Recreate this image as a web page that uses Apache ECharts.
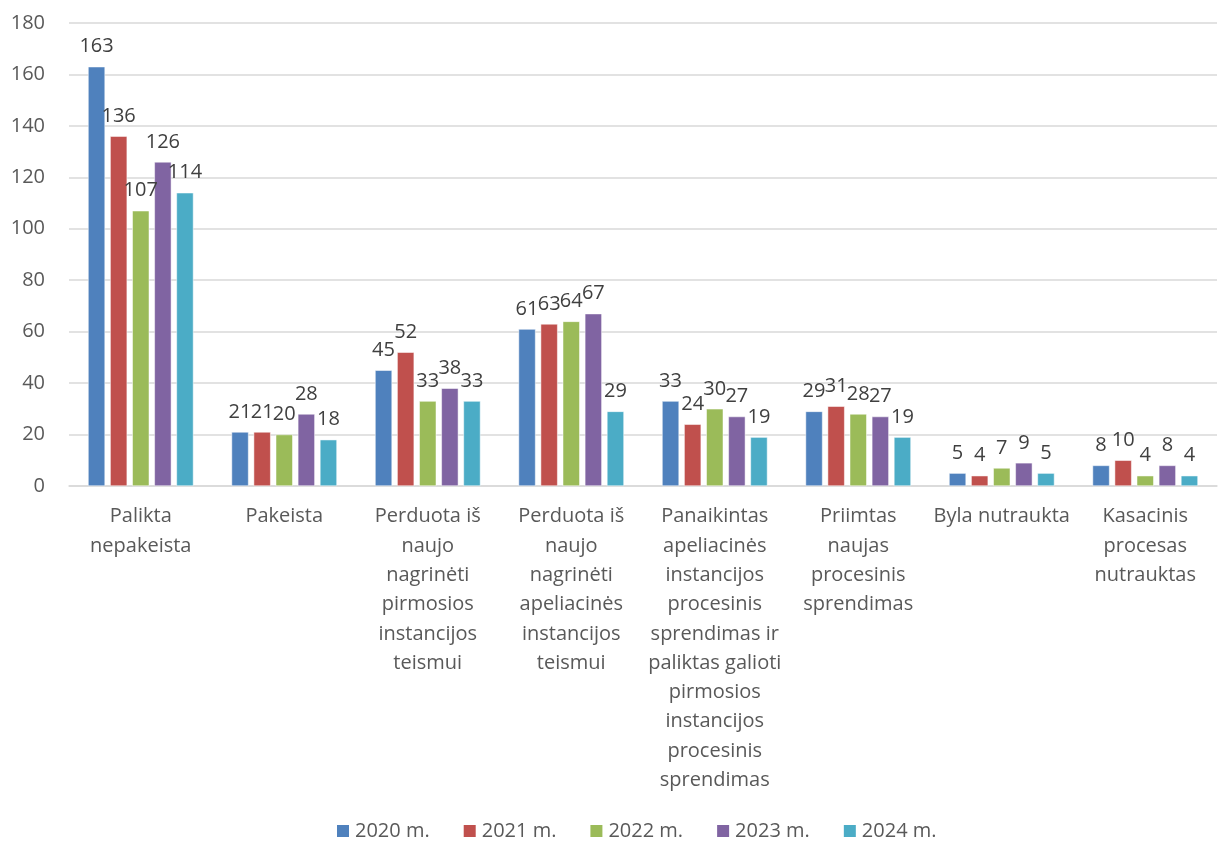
<!DOCTYPE html>
<html>
<head>
<meta charset="utf-8">
<script src="https://cdn.jsdelivr.net/npm/echarts@6/dist/echarts.min.js"></script>
<style>
    html, body { margin: 0; padding: 0; background: #fff; }
    #chart { width: 1220px; height: 843px; }
</style>
</head>
<body>
<div id="chart"></div>
<script>
    const categories = [
        "Palikta\nnepakeista",
        "Pakeista",
        "Perduota iš\nnaujo\nnagrinėti\npirmosios\ninstancijos\nteismui",
        "Perduota iš\nnaujo\nnagrinėti\napeliacinės\ninstancijos\nteismui",
        "Panaikintas\napeliacinės\ninstancijos\nprocesinis\nsprendimas ir\npaliktas galioti\npirmosios\ninstancijos\nprocesinis\nsprendimas",
        "Priimtas\nnaujas\nprocesinis\nsprendimas",
        "Byla nutraukta",
        "Kasacinis\nprocesas\nnutrauktas"
    ]
    const years = ["2020 m.", "2021 m.", "2022 m.", "2023 m.", "2024 m."]
    const v2020 = [163, 21, 45, 61, 33, 29, 5, 8]
    const v2021 = [136, 21, 52, 63, 24, 31, 4, 10]
    const v2022 = [107, 20, 33, 64, 30, 28, 7, 4]
    const v2023 = [126, 28, 38, 67, 27, 27, 9, 8]
    const v2024 = [114, 18, 33, 29, 19, 19, 5, 4]
    const colors = ["#4F81BD", "#C0504D", "#9BBB59", "#8064A2", "#4BACC6"]

    const font = "'Open Sans', sans-serif"
    const textColor = "#595959"

    let myChart = echarts.init(document.getElementById("chart"))
    let values = [v2020, v2021, v2022, v2023, v2024]

    myChart.setOption({
        color: colors,
        animation: false,
        textStyle: {fontFamily: font},
        grid: {
            top: 23,
            bottom: 357,
            left: 69,
            right: 3,
            containLabel: false
        },
        legend: {
            bottom: -3,
            left: 330,
            itemWidth: 14,
            itemHeight: 14,
            itemGap: 32,
            icon: "rect",
            textStyle: {fontSize: 20, color: textColor, fontFamily: font},
            data: years
        },
        xAxis: {
            type: "category",
            data: categories,
            axisLine: {lineStyle: {color: "#d9d9d9", width: 1.5}},
            axisTick: {show: false},
            axisLabel: {
                interval: 0,
                margin: 16,
                fontSize: 20,
                lineHeight: 29.3,
                color: textColor,
                fontFamily: font
            }
        },
        yAxis: {
            type: "value",
            min: 0,
            max: 180,
            interval: 20,
            axisLine: {show: false},
            axisTick: {show: false},
            splitLine: {lineStyle: {color: "#d9d9d9", width: 1.5}},
            axisLabel: {fontSize: 20, color: textColor, margin: 24, fontFamily: font}
        },
        series: years.map((y, i) => ({
            name: y,
            type: "bar",
            data: values[i],
            barWidth: 17,
            barGap: "30%",
            barCategoryGap: "25%",
            itemStyle: {color: colors[i], borderColor: "#fff", borderWidth: 0.5},
            label: {
                show: true,
                position: "top",
                distance: 10,
                fontSize: 20,
                color: "#404040",
                fontFamily: font
            }
        }))
    })
</script>
</body>
</html>
